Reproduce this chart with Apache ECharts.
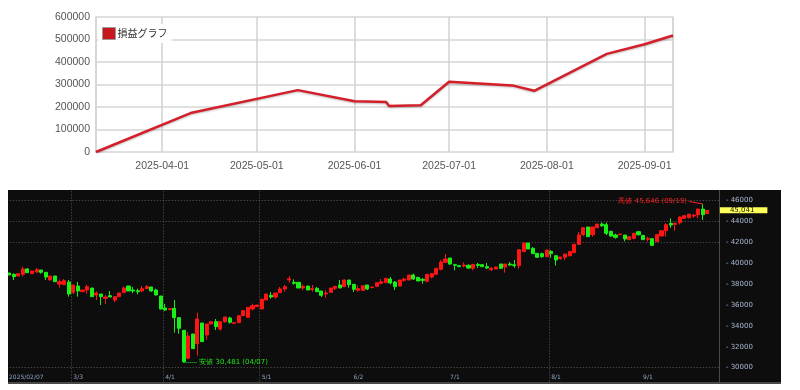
<!DOCTYPE html>
<html><head><meta charset="utf-8">
<script src="https://cdn.jsdelivr.net/npm/echarts@6/dist/echarts.min.js"></script>
<style>
html,body{margin:0;padding:0;background:#fff;width:800px;height:390px;overflow:hidden;}
#top{position:absolute;left:0;top:0;width:800px;height:185px;}
#bot{position:absolute;left:8px;top:190px;width:773px;height:192px;}
#bar{position:absolute;left:8px;top:382px;width:773px;height:2px;background:#4a4a4a;}
</style></head><body>
<div id="top"></div><div id="bot"></div><div id="bar"></div>
<script>
// ===== Top chart: profit/loss line =====
const pnlName = '損益グラフ';
const pnlDates = ['2025-03-11','2025-04-10','2025-05-14','2025-06-01','2025-06-11','2025-06-12','2025-06-22','2025-07-01','2025-07-21','2025-07-28','2025-08-20','2025-09-01','2025-09-10'];
const pnlValues = [0,173000,275000,226000,222000,204000,208000,312000,296000,272000,436000,479000,518000];
const pnlYTicks = [0,100000,200000,300000,400000,500000,600000];

// ===== Bottom chart: daily candles =====
const tradeYear = '2025';
const tradeDates = ['02/07','02/10','02/12','02/13','02/14','02/17','02/18','02/19','02/20','02/21','02/25','02/26','02/27','02/28',
'03/03','03/04','03/05','03/06','03/07','03/10','03/11','03/12','03/13','03/14','03/17','03/18','03/19','03/21','03/24','03/25','03/26','03/27','03/28','03/31',
'04/01','04/02','04/03','04/04','04/07','04/08','04/09','04/10','04/11','04/14','04/15','04/16','04/17','04/18','04/21','04/22','04/23','04/24','04/25','04/28','04/30',
'05/01','05/02','05/07','05/08','05/09','05/12','05/13','05/14','05/15','05/16','05/19','05/20','05/21','05/22','05/23','05/26','05/27','05/28','05/29','05/30',
'06/02','06/03','06/04','06/05','06/06','06/09','06/10','06/11','06/12','06/13','06/16','06/17','06/18','06/19','06/20','06/23','06/24','06/25','06/26','06/27','06/30',
'07/01','07/02','07/03','07/04','07/07','07/08','07/09','07/10','07/11','07/14','07/15','07/16','07/17','07/18','07/22','07/23','07/24','07/25','07/28','07/29','07/30','07/31',
'08/01','08/04','08/05','08/06','08/07','08/08','08/12','08/13','08/14','08/15','08/18','08/19','08/20','08/21','08/22','08/25','08/26','08/27','08/28','08/29',
'09/01','09/02','09/03','09/04','09/05','09/08','09/09','09/10','09/11','09/12','09/16','09/17','09/18','09/19','09/22'];
const opens = [39051,38924,38764,38924,39433,38987,39147,39338,39115,38382, 38764,38000,37936,38191,37203,37808,37267,37426,37617,36948,
37044,36630,36884,36470,36789,37171,37808,37426,37362,37331, 37554,37713,37426,36853,35706,35546,35674,34782,33571,30895,
33221,32297,34272,33125,34176,34399,33698,34399,34750,34240, 34304,34973,34814,35610,35833,35610,36470,36916,36757,37171,
37522,38382,38159,38159,37617,37808,37458,37585,37331,37044, 37203,37585,37904,37745,38382,37968,37394,37394,37904,37649,
37777,38063,38127,38477,38191,37808,38350,38382,38860,38637, 38446,38254,38669,38924,39401,40070,40485,39847,39752,39720,
39784,39497,39880,39847,39656,39370,39433,39911,39624,39911, 39847,39752,41090,41918,41409,40931,40899,40612,41122,40708,
40421,40548,40708,40994,41791,42715,43448,42715,43384,43734, 43671,43033,42683,42715,42683,42237,42364,43002,42651,42269,
42333,42046,42587,43097,43798,43703,43862,44276,44340,44499, 44626,45168,44722];
const closes = [38860,38700,38987,39433,39083,39242,39370,39115,38669,38764, 38223,38223,38318,37044,37904,37331,37426,37745,36789,37139,
36789,36757,36757,36789,37139,37617,37331,37331,37267,37554, 37745,37331,36948,35610,35514,35642,34782,33762,30576,33029,
31819,34654,32488,34176,34399,33921,34399,34845,34336,34304, 34973,35451,35769,35929,35992,36534,37044,36757,37139,37522,
37745,38509,38063,37617,37777,37426,37554,37267,36916,37139, 37617,37777,37617,38382,37936,37490,37554,37840,37522,37713,
38127,38223,38541,38095,37745,38382,38477,38860,38477,38286, 38350,38924,38987,39497,40102,40389,39911,39784,39656,39816,
39529,39879,39780,39656,39529,39497,39624,39497,39911,39816, 39752,41281,41918,41345,40899,40548,40612,41249,40899,40293,
40580,40867,41090,41791,42683,43384,42524,43448,43734,43575, 42842,42587,42460,42779,42301,42524,42842,42715,42237,42364,
41695,42715,43097,43671,43639,43798,44403,44531,44658,44595, 45168,44626,45041];
const lows = [38860,38382,38764,38700,39051,38987,39083,38987,38382,38382, 38223,37649,37904,36789,37044,36789,37267,37076,36789,36470,
35992,36088,36757,36247,36789,37171,37331,37139,37012,37203, 37554,37267,36916,35578,35419,35546,33348,33252,30481,30799,
31819,31150,32488,32679,34176,33603,33539,34304,34208,34240, 34304,34973,34750,35483,35833,35610,36470,36598,36598,37171,
37267,38127,37936,37617,37394,37426,37267,37235,36757,36661, 37203,37426,37617,37745,37649,37235,37267,37394,37426,37649,
37777,37968,38127,37968,37426,37808,38223,38382,38382,38286, 38031,38159,38541,38924,39306,40070,39816,39306,39656,39593,
39433,39306,39529,39656,39433,39242,39433,39497,39083,39720, 39561,39465,41090,41345,40867,40548,40517,40612,40517,39752,
40325,40293,40612,40994,41727,42587,42524,42524,43384,43448, 42683,42524,42333,42715,42078,42237,42269,42619,42237,42046,
41632,42046,42587,42524,43384,43097,43703,44276,44276,44340, 44276,44117,44722];
const highs = [39051,39019,38987,39656,39529,39242,39529,39338,39115,38764, 38764,38414,38477,38382,37904,38191,37426,37936,37617,37299,
37044,36948,37331,36789,37139,37745,37808,37713,37554,37808, 37904,37713,37554,36853,36088,35642,36470,34782,33571,33412,
33221,35260,34272,34176,34399,34654,34399,34845,34877,34304, 34973,35451,35769,36120,35992,36630,37044,37235,37139,37713,
37904,38764,38446,38159,37936,37808,37904,37713,37331,37394, 37617,37777,38382,38446,38382,37968,37872,37872,37904,37713,
38127,38477,38541,38669,38286,38382,38605,38860,38987,38637, 38573,38924,38987,39497,40293,40867,40485,39943,39752,40070,
39879,39879,40007,39847,40007,39624,39624,39911,39911,40102, 40293,41345,41918,41918,41536,40931,40994,41249,41249,40708,
40580,40867,41186,41791,42970,43448,43448,43448,43734,43894, 43894,43097,42810,42779,42683,42524,42906,43065,42651,42524,
42364,42715,43097,43830,44276,43894,44467,44531,44722,44690, 45168,45646,45041];
const priceTicks = [30000,32000,34000,36000,38000,40000,42000,44000,46000];
const visiblePriceGrid = [30000,42000,44000,46000];
const gridMonths = ['03','04','05','08'];
const blankSlots = 2;

// ---------- chart 1 ----------
const c1 = echarts.init(document.getElementById('top'), null, {renderer:'canvas'});
c1.setOption({
  animation:false,
  backgroundColor:'#ffffff',
  textStyle:{fontFamily:'Liberation Sans, Arial, sans-serif'},
  grid:{left:96, right:127, top:17, bottom:33, show:true, borderColor:'#e3dfc5', borderWidth:1.5, backgroundColor:'#fff'},
  legend:{
    data:[{name:pnlName, icon:'rect', itemStyle:{color:'#c8161d', borderColor:'#9a9a9a', borderWidth:1}}],
    left:98, top:24, padding:[3,4,3,4], itemWidth:13, itemHeight:12, itemGap:4,
    backgroundColor:'#ffffff',
    textStyle:{fontSize:10, color:'#333', fontFamily:'Noto Sans CJK JP', padding:[0,0,0,-3]}
  },
  xAxis:{type:'time', min:pnlDates[0], max:pnlDates[pnlDates.length-1],
    minInterval:28*86400000, maxInterval:31*86400000,
    axisLine:{show:false}, axisTick:{show:false},
    splitLine:{show:true, lineStyle:{color:'#d2d2d2', width:1.5}},
    axisLabel:{formatter:'{yyyy}-{MM}-{dd}', color:'#555', fontSize:10.5, margin:9, hideOverlap:false}},
  yAxis:{type:'value', min:pnlYTicks[0], max:pnlYTicks[pnlYTicks.length-1], interval:pnlYTicks[1]-pnlYTicks[0],
    axisLine:{show:false}, axisTick:{show:false},
    splitLine:{lineStyle:{color:'#e0e0e0', width:2}},
    axisLabel:{color:'#555', fontSize:10.5, margin:6, formatter:(v)=>String(v)}},
  series:[{name:pnlName, type:'line', symbol:'none', smooth:false,
    data: pnlDates.map((d,i)=>[d, pnlValues[i]]),
    itemStyle:{color:'#c8161d'},
    lineStyle:{color:'#d41f2b', width:2.5, shadowColor:'rgba(0,0,0,0.25)', shadowBlur:2, shadowOffsetY:1}}]
});

// ---------- chart 2 ----------
const cats = tradeDates.concat(new Array(blankSlots).fill(''));
const monthStart = new Set();
const gridIdx = new Set();
tradeDates.forEach((d,i)=>{
  if(i>0 && d.slice(0,2)!==tradeDates[i-1].slice(0,2)){
    monthStart.add(i);
    if(gridMonths.includes(d.slice(0,2))) gridIdx.add(i);
  }
});
const candleData = tradeDates.map((d,i)=>[opens[i], closes[i], lows[i], highs[i]]);
let maxIdx=0, minIdx=0;
highs.forEach((h,i)=>{ if(h>highs[maxIdx]) maxIdx=i; });
lows.forEach((l,i)=>{ if(l<lows[minIdx]) minIdx=i; });
const lastClose = closes[closes.length-1];
const fmt = v => v.toLocaleString('en-US');

const yMin = priceTicks[0]-2000, yMax = priceTicks[priceTicks.length-1]+2000;
const splitColors = [];
for(let v=yMin; v<=yMax; v+=2000) splitColors.push(visiblePriceGrid.includes(v)?'#5c5c5c':'rgba(0,0,0,0)');

const c2 = echarts.init(document.getElementById('bot'), null, {renderer:'canvas'});
c2.setOption({
  animation:false,
  backgroundColor:'#0d0d0d',
  textStyle:{fontFamily:'DejaVu Sans, sans-serif'},
  grid:{left:-1.3, right:62.1, top:-10.6, bottom:-6.6, outerBoundsMode:'none', containLabel:false},
  xAxis:{type:'category', data:cats, boundaryGap:true,
    axisLine:{show:false}, axisTick:{show:false},
    splitLine:{show:true, interval:(i)=>gridIdx.has(i), lineStyle:{color:'#5c5c5c', type:[1,2], width:1}},
    axisLabel:{inside:true, margin:8, interval:(i)=> i===0 || monthStart.has(i), align:'left',
      fontSize:6, color:'#8ea6c4',
      formatter:(v,i)=> i===0 ? tradeYear+'/'+v : (v ? (+v.slice(0,2))+'/'+(+v.slice(3)) : '')}},
  yAxis:{type:'value', position:'right', min:yMin, max:yMax, interval:2000, scale:true,
    axisLine:{show:true, onZero:false, lineStyle:{color:'#4a4a4a', width:1}}, axisTick:{show:false},
    splitLine:{show:true, lineStyle:{color:splitColors, type:[1,2], width:1}},
    axisLabel:{margin:7, fontSize:7, color:'#a8b8d0',
      formatter:(v)=> priceTicks.includes(v) ? '- '+v : ''}},
  series:[{type:'candlestick', data:candleData, barWidth:'78%',
    itemStyle:{color:'#ff1414', color0:'#18f018', borderColor:'#ff1414', borderColor0:'#18f018', borderWidth:1},
    markLine:{silent:true, symbol:['none','none'], animation:false, precision:0,
      data:[
        [{coord:[maxIdx-3, highs[maxIdx]+250], lineStyle:{color:'#ff2020', width:1, type:'solid'},
          label:{show:true, position:'start', distance:2, color:'#ff2020', fontSize:7,
            formatter:'高値 '+fmt(highs[maxIdx])+' ('+tradeDates[maxIdx]+')'}},
         {coord:[maxIdx, highs[maxIdx]]}],
        [{coord:[minIdx, lows[minIdx]], lineStyle:{color:'#20e020', width:1, type:'dotted'},
          label:{show:true, position:'end', distance:2, color:'#20e020', fontSize:7,
            formatter:'安値 '+fmt(lows[minIdx])+' ('+tradeDates[minIdx]+')'}},
         {coord:[minIdx+3, lows[minIdx]]}]
      ]}
  },
  {type:'line', data:[], silent:true,
    markLine:{silent:true, symbol:['none','none'], animation:false,
      data:[{yAxis:lastClose, lineStyle:{color:'rgba(0,0,0,0)', width:1},
          label:{show:true, position:'end', distance:1, backgroundColor:'#ffff5a', color:'#111',
            fontSize:7, lineHeight:6, padding:[0,13,0,10], formatter:fmt(lastClose)}}]}
  }]
});
</script>
</body></html>
